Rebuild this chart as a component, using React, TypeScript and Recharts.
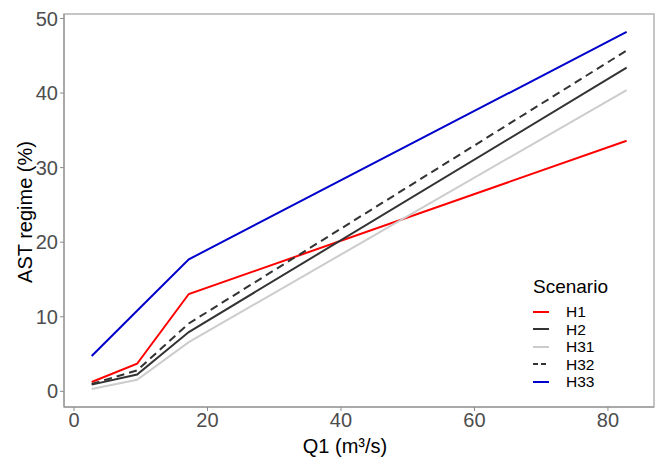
import React from 'react';
import { LineChart, Line, XAxis, YAxis, ReferenceArea, Label } from 'recharts';

const q1 = [2.65, 9.45, 17.2, 82.8];
const h1 = [1.25, 3.7, 13.05, 33.6];
const h2 = [0.9, 2.25, 7.95, 43.4];
const h31 = [0.3, 1.55, 6.6, 40.4];
const h32 = [1.0, 2.8, 9.1, 45.7];
const h33 = [4.75, 10.8, 17.7, 48.2];
const xTicks = [0, 20, 40, 60, 80];
const yTicks = [0, 10, 20, 30, 40, 50];

const series = [
  { key: 'H1', color: '#ff0000', dash: undefined },
  { key: 'H2', color: '#333333', dash: undefined },
  { key: 'H31', color: '#cccccc', dash: undefined },
  { key: 'H32', color: '#333333', dash: '8 5' },
  { key: 'H33', color: '#0000cc', dash: undefined },
];

const data = q1.map((q, i) => ({ q, H1: h1[i], H2: h2[i], H31: h31[i], H32: h32[i], H33: h33[i] }));

const font = '"Liberation Sans", Arial, sans-serif';
const tickStyle = { fill: '#4d4d4d', fontSize: 20, fontFamily: font };

// legend drawn as an overlay so it doesn't shrink the plot area
const ScenarioLegend = () => (
  <div style={{ position: 'absolute', left: 533, top: 276, fontFamily: font, color: '#000' }}>
    <div style={{ fontSize: 19, lineHeight: '22px', marginBottom: 5 }}>Scenario</div>
    {series.map((s) => (
      <div key={s.key} style={{ display: 'flex', alignItems: 'center', height: 17.5 }}>
        <svg width={16} height={4} style={{ marginRight: 17 }}>
          <line x1={0} y1={2} x2={16} y2={2} stroke={s.color} strokeWidth={2}
            strokeDasharray={s.dash ? '5 3' : undefined} />
        </svg>
        <span style={{ display: 'block', fontSize: 15.5, lineHeight: '17px', height: 17 }}>{s.key}</span>
      </div>
    ))}
  </div>
);

export default function App() {
  return (
    <div style={{ position: 'absolute', left: 0, top: 0, width: 659, height: 458, background: '#fff' }}>
      <LineChart width={659} height={458} data={data} margin={{ top: 14, right: 5, bottom: 0, left: 0 }}>
        <XAxis
          dataKey="q"
          type="number"
          domain={[-1.5, 86.9]}
          ticks={xTicks}
          allowDataOverflow
          height={51}
          tickSize={4}
          tick={tickStyle}
          stroke="#8c8c8c"
          tickLine={{ stroke: '#8c8c8c' }}
        >
          <Label
            content={() => (
              <text x={345} y={453} textAnchor="middle" fontSize={20} fontFamily={font} fill="#000">
                Q1 (m³/s)
              </text>
            )}
          />
        </XAxis>
        <YAxis
          type="number"
          domain={[-2.1, 50.6]}
          ticks={yTicks}
          allowDataOverflow
          width={64}
          tickSize={4}
          tick={tickStyle}
          stroke="#8c8c8c"
          tickLine={{ stroke: '#8c8c8c' }}
        >
          <Label
            content={() => (
              <text x={32} y={212} textAnchor="middle" fontSize={20} fontFamily={font} fill="#000"
                transform="rotate(-90 32 212)">
                AST regime (%)
              </text>
            )}
          />
        </YAxis>
        <ReferenceArea x1={-1.5} x2={86.9} y1={-2.1} y2={50.6} fill="none" stroke="#b3b3b3" strokeWidth={1.5} />
        {series.map((s) => (
          <Line
            key={s.key}
            dataKey={s.key}
            stroke={s.color}
            strokeWidth={2}
            strokeDasharray={s.dash}
            dot={false}
            activeDot={false}
            type="linear"
            isAnimationActive={false}
          />
        ))}
      </LineChart>
      <ScenarioLegend />
    </div>
  );
}
